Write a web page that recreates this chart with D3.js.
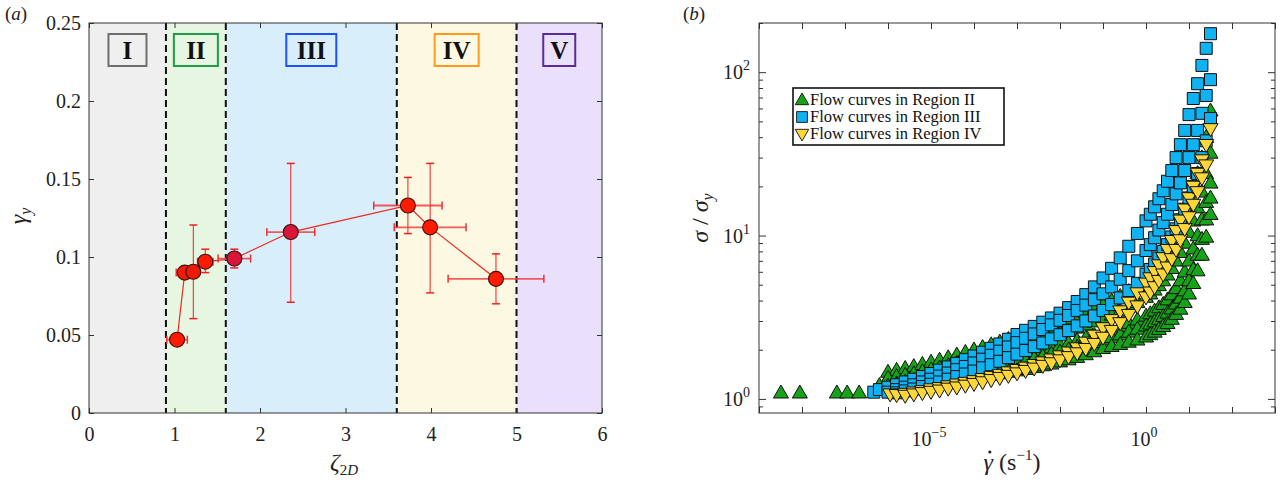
<!DOCTYPE html>
<html>
<head>
<meta charset="utf-8">
<script src="https://cdn.jsdelivr.net/npm/d3@7"></script>
<style>
body { margin: 0; background: #fff; }
svg text { font-family: "Liberation Serif", "DejaVu Serif", serif; fill: #222; }
</style>
</head>
<body>
<svg id="chart" width="1286" height="487"></svg>
<script>
// ---- panel (a) data ----
const zeta = [1.03, 1.12, 1.22, 1.36, 1.70, 2.36, 3.73, 3.99, 4.76];
const gammaY = [0.047, 0.090, 0.0905, 0.097, 0.099, 0.116, 0.133, 0.119, 0.086];
const zetaErr = [0.12, 0.10, 0.02, 0.09, 0.19, 0.28, 0.40, 0.42, 0.56];
const gammaErrLo = [0.002, 0.0, 0.030, 0.007, 0.006, 0.045, 0.018, 0.042, 0.016];
const gammaErrHi = [0.002, 0.0, 0.030, 0.008, 0.006, 0.044, 0.018, 0.041, 0.016];
const pointFill = ['#ff1a00', '#f01a05', '#ee1a08', '#ff1a00', '#d8163a', '#d8163a', '#ff1a00', '#ff1a00', '#ff1a00'];

const regionEdges = [0, 0.9, 1.6, 3.6, 5, 6];
const regionNames = ['I', 'II', 'III', 'IV', 'V'];
const regionFill = ['#efefef', '#e6f6e1', '#d9eefb', '#fdf8e2', '#ebe0fb'];
const regionStroke = ['#6e6e6e', '#1c9e48', '#1f50ff', '#ff9a1c', '#5a2a98'];
const regionBoxW = [38, 44, 50, 44, 32];

const xTicksA = [0, 1, 2, 3, 4, 5, 6];
const yTicksA = [0, 0.05, 0.1, 0.15, 0.2, 0.25];
const yTickLabelsA = ['0', '0.05', '0.1', '0.15', '0.2', '0.25'];

// ---- panel (b) data: log10 shear rate grid and σ/σy per flow curve ----
const rateGrid = [-6.2, -6.0, -5.8, -5.6, -5.4, -5.2, -5.0, -4.8, -4.6, -4.4, -4.2, -4.0,
  -3.8, -3.6, -3.4, -3.2, -3.0, -2.8, -2.6, -2.4, -2.2, -2.0, -1.8, -1.6, -1.4, -1.2,
  -1.0, -0.8, -0.6, -0.4, -0.2, 0.0, 0.1, 0.2, 0.3, 0.4, 0.5, 0.6, 0.7, 0.8, 0.9, 1.0,
  1.1, 1.2, 1.3, 1.4, 1.5];

const greenCurves = [
  [null, 1.46, 1.5, 1.54, 1.58, 1.63, 1.68, 1.73, 1.79, 1.86, 1.93, 2.0, 2.07, 2.15, 2.23, 2.32, 2.41, 2.5, 2.6, 2.71, 2.82, 2.95, 3.08, 3.22, 3.38, 3.55, 3.75, 3.98, 4.25, 4.55, 4.9, 5.4, 5.7, 6.1, 6.6, 7.2, 8.0, 9.0, 10.3, 12, 14, 16.5, 19.5, 24, 30, 40, 58],
  [null, 1.34, 1.37, 1.4, 1.43, 1.47, 1.51, 1.55, 1.6, 1.65, 1.7, 1.76, 1.82, 1.88, 1.95, 2.02, 2.09, 2.17, 2.25, 2.33, 2.42, 2.51, 2.61, 2.72, 2.84, 2.97, 3.11, 3.27, 3.45, 3.66, 3.9, 4.2, 4.4, 4.65, 4.95, 5.3, 5.75, 6.3, 7.0, 7.9, 9.0, 10.5, 12.3, 14.8, 18.5, 24, 32],
  [null, null, 1.24, 1.27, 1.3, 1.33, 1.36, 1.39, 1.43, 1.47, 1.51, 1.55, 1.6, 1.65, 1.7, 1.75, 1.81, 1.87, 1.93, 1.99, 2.06, 2.13, 2.2, 2.28, 2.36, 2.45, 2.55, 2.66, 2.78, 2.91, 3.05, 3.22, 3.33, 3.46, 3.62, 3.8, 4.05, 4.35, 4.75, 5.3, 6.0, 7.0, 8.3, 10, 12.5, 16, 21],
  [null, null, 1.22, 1.24, 1.26, 1.29, 1.31, 1.34, 1.37, 1.4, 1.43, 1.46, 1.5, 1.54, 1.58, 1.62, 1.67, 1.72, 1.77, 1.82, 1.88, 1.94, 2.0, 2.07, 2.14, 2.22, 2.3, 2.38, 2.47, 2.57, 2.68, 2.8, 2.88, 2.97, 3.08, 3.2, 3.36, 3.56, 3.82, 4.15, 4.6, 5.3, 6.2, 7.6, 9.5, 12.5, 17],
  [1.21, 1.2, 1.21, 1.22, 1.24, 1.25, 1.27, 1.28, 1.3, 1.32, 1.34, 1.36, 1.38, 1.4, 1.43, 1.46, 1.49, 1.52, 1.56, 1.6, 1.64, 1.69, 1.74, 1.8, 1.87, 1.95, 2.04, 2.1, 2.16, 2.23, 2.3, 2.4, 2.48, 2.57, 2.67, 2.78, 2.9, 3.08, 3.3, 3.55, 3.9, 4.4, 5.1, 6.1, 7.6, 9.8, 13.5]
];
const blueCurves = [
  [1.14, 1.18, 1.22, 1.27, 1.32, 1.37, 1.43, 1.5, 1.57, 1.65, 1.74, 1.83, 1.93, 2.04, 2.17, 2.32, 2.48, 2.63, 2.78, 2.95, 3.13, 3.35, 3.62, 3.95, 4.35, 4.85, 5.5, 6.3, 7.3, 8.6, 10.3, 12.3, 13.5, 15.0, 16.8, 18.8, 21.5, 25, 30, 36, 44, 55, 69, 85, 110, 140, 172],
  [null, 1.1, 1.14, 1.18, 1.22, 1.27, 1.32, 1.38, 1.44, 1.51, 1.58, 1.66, 1.75, 1.85, 1.96, 2.08, 2.21, 2.35, 2.5, 2.66, 2.84, 3.03, 3.24, 3.48, 3.75, 4.05, 4.4, 4.85, 5.4, 6.1, 7.0, 8.1, 8.8, 9.7, 10.8, 12.0, 13.5, 15.5, 18, 21, 25, 30, 36, 44, 56, 72, 90],
  [null, null, 1.09, 1.12, 1.15, 1.19, 1.23, 1.27, 1.32, 1.37, 1.42, 1.48, 1.55, 1.62, 1.7, 1.79, 1.88, 1.98, 2.09, 2.2, 2.33, 2.47, 2.62, 2.8, 3.0, 3.22, 3.48, 3.78, 4.15, 4.6, 5.1, 5.8, 6.2, 6.7, 7.3, 8.0, 8.8, 9.8, 11, 12.5, 14.5, 17, 20, 24, 30, 38, 52]
];
const yellowCurves = [
  [null, null, 1.06, 1.08, 1.1, 1.12, 1.15, 1.17, 1.2, 1.23, 1.26, 1.29, 1.33, 1.37, 1.41, 1.46, 1.51, 1.56, 1.62, 1.68, 1.75, 1.83, 1.93, 2.05, 2.22, 2.45, 2.72, 3.05, 3.45, 3.9, 4.45, 5.1, 5.5, 6.0, 6.6, 7.3, 8.2, 9.3, 10.7, 12.4, 14.5, 17, 20, 24, 29, 36, 45],
  [null, null, null, 1.05, 1.07, 1.09, 1.11, 1.13, 1.16, 1.18, 1.21, 1.24, 1.27, 1.31, 1.35, 1.39, 1.44, 1.49, 1.54, 1.6, 1.66, 1.73, 1.81, 1.91, 2.03, 2.18, 2.38, 2.62, 2.92, 3.28, 3.7, 4.2, 4.5, 4.85, 5.3, 5.8, 6.4, 7.2, 8.2, 9.4, 11, 13, 15.5, 18.5, 22.5, 27, null]
];
// isolated first points of some curves (log10 rate, σ/σy)
const greenStarts = [[-8.49, 1.09], [-8.05, 1.09], [-7.19, 1.09], [-6.95, 1.09], [-6.67, 1.09]];
const blueStarts = [[-6.33, 1.1]];
const yellowStarts = [[-5.95, 1.07]];

const legendLabels = ['Flow curves in Region II', 'Flow curves in Region III', 'Flow curves in Region IV'];
const seriesColor = ['#17a317', '#0fb2f2', '#fdd63a'];

const xTicksB = d3.range(-9, 4).map(e => Math.pow(10, e));
const xLabelledB = [-5, 0];
const yLabelledB = [0, 1, 2];

const SERIF = '"Liberation Serif", "DejaVu Serif", serif';
const svg = d3.select('#chart');

// ================= panel (a) =================
const A = { left: 89, right: 602, top: 23, bottom: 413 };
const xA = d3.scaleLinear().domain([0, 6]).range([A.left, A.right]);
const yA = d3.scaleLinear().domain([0, 0.25]).range([A.bottom, A.top]);

const gA = svg.append('g');

regionNames.forEach((name, i) => {
  gA.append('rect')
    .attr('x', xA(regionEdges[i]))
    .attr('y', A.top)
    .attr('width', xA(regionEdges[i + 1]) - xA(regionEdges[i]))
    .attr('height', A.bottom - A.top)
    .attr('fill', regionFill[i]);
});

regionEdges.slice(1, -1).forEach(e => {
  gA.append('line')
    .attr('x1', xA(e)).attr('x2', xA(e))
    .attr('y1', A.top).attr('y2', A.bottom)
    .attr('stroke', '#111')
    .attr('stroke-width', 2)
    .attr('stroke-dasharray', '7,4');
});

// region labels
regionNames.forEach((name, i) => {
  const cx = xA((regionEdges[i] + regionEdges[i + 1]) / 2);
  gA.append('rect')
    .attr('x', cx - regionBoxW[i] / 2)
    .attr('y', 34)
    .attr('width', regionBoxW[i])
    .attr('height', 32)
    .attr('fill', 'none')
    .attr('stroke', regionStroke[i])
    .attr('stroke-width', 2);
  gA.append('text')
    .attr('x', cx)
    .attr('y', 59)
    .attr('text-anchor', 'middle')
    .attr('font-size', '25px')
    .attr('font-weight', 'bold')
    .style('fill', '#111')
    .text(name);
});

// axes
const axA = gA.append('g');
axA.append('g')
  .attr('transform', `translate(0,${A.bottom})`)
  .call(d3.axisBottom(xA).tickValues(xTicksA).tickSize(-5).tickPadding(14).tickFormat(d3.format('d')));
axA.append('g')
  .attr('transform', `translate(0,${A.top})`)
  .call(d3.axisTop(xA).tickValues(xTicksA).tickSize(-5).tickFormat(''));
axA.append('g')
  .attr('transform', `translate(${A.left},0)`)
  .call(d3.axisLeft(yA).tickValues(yTicksA).tickSize(-5).tickPadding(8).tickFormat((d, i) => yTickLabelsA[i]));
axA.append('g')
  .attr('transform', `translate(${A.right},0)`)
  .call(d3.axisRight(yA).tickValues(yTicksA).tickSize(-5).tickFormat(''));
axA.selectAll('g').attr('font-family', SERIF);
axA.selectAll('.domain').remove();
axA.selectAll('.tick line').attr('stroke', '#333');
axA.selectAll('.tick text').attr('font-size', '20px').style('font-family', SERIF).style('fill', '#222');

gA.append('rect')
  .attr('x', A.left).attr('y', A.top)
  .attr('width', A.right - A.left).attr('height', A.bottom - A.top)
  .attr('fill', 'none').attr('stroke', '#333').attr('stroke-width', 1);

// data line
const lineA = d3.line().x(d => xA(d[0])).y(d => yA(d[1]));
gA.append('path')
  .datum(zeta.map((z, i) => [z, gammaY[i]]))
  .attr('d', lineA)
  .attr('fill', 'none')
  .attr('stroke', '#ec2a20')
  .attr('stroke-width', 1.2);

// error bars
const cap = 4;
zeta.forEach((z, i) => {
  const g = gA.append('g');
  const cy = yA(gammaY[i]);
  if (zetaErr[i] > 0) {
    const x1 = xA(z - zetaErr[i]), x2 = xA(z + zetaErr[i]);
    g.append('line').attr('x1', x1).attr('x2', x2).attr('y1', cy).attr('y2', cy)
      .attr('stroke', '#f04040').attr('stroke-width', 1.8).attr('opacity', 0.85);
    [x1, x2].forEach(x => g.append('line').attr('x1', x).attr('x2', x)
      .attr('y1', cy - cap).attr('y2', cy + cap).attr('stroke', '#f03030').attr('stroke-width', 1.5));
  }
  if (gammaErrLo[i] + gammaErrHi[i] > 0) {
    const y1 = yA(gammaY[i] - gammaErrLo[i]), y2 = yA(gammaY[i] + gammaErrHi[i]);
    const cx = xA(z);
    g.append('line').attr('x1', cx).attr('x2', cx).attr('y1', y1).attr('y2', y2)
      .attr('stroke', '#f02020').attr('stroke-width', 1);
    [y1, y2].forEach(y => g.append('line').attr('x1', cx - cap).attr('x2', cx + cap)
      .attr('y1', y).attr('y2', y).attr('stroke', '#f02020').attr('stroke-width', 1.5));
  }
});

gA.selectAll('.pt')
  .data(zeta)
  .enter()
  .append('circle')
  .attr('class', 'pt')
  .attr('cx', d => xA(d))
  .attr('cy', (d, i) => yA(gammaY[i]))
  .attr('r', 7.5)
  .attr('fill', (d, i) => pointFill[i])
  .attr('stroke', '#3a1010')
  .attr('stroke-width', 1.1);

// labels
svg.append('text').attr('x', 5).attr('y', 20).attr('font-size', '19px')
  .html('(<tspan font-style="italic">a</tspan>)');
svg.append('text')
  .attr('transform', 'translate(26,216) rotate(-90)')
  .attr('text-anchor', 'middle')
  .attr('font-size', '24px')
  .html('<tspan font-style="italic">γ</tspan><tspan font-style="italic" font-size="16px" dy="5">y</tspan>');
svg.append('text')
  .attr('x', 344).attr('y', 470)
  .attr('text-anchor', 'middle')
  .attr('font-size', '24px')
  .html('<tspan font-style="italic">ζ</tspan><tspan font-size="15px" dy="5">2</tspan><tspan font-style="italic" font-size="15px">D</tspan>');

// ================= panel (b) =================
const B = { left: 759, right: 1275, top: 23, bottom: 413 };
const xB = d3.scaleLog().domain([1e-9, 1e3]).range([B.left, B.right]);
const yB = d3.scaleLog().domain([0.82, 200]).range([B.bottom, B.top]);

const gB = svg.append('g');

function sup(sel, exp) {
  sel.html(`10<tspan font-size="14px" dy="-9">${exp}</tspan>`);
}

// ticks
const yMajorB = [1, 10, 100];
const yMinorB = [];
[0.1, 1, 10, 100].forEach(dec => {
  for (let m = 2; m <= 9; m++) {
    const v = dec * m;
    if (v >= 0.82 && v <= 200) yMinorB.push(v);
  }
});

const axB = gB.append('g');
axB.append('g').attr('transform', `translate(0,${B.bottom})`)
  .call(d3.axisBottom(xB).tickValues(xTicksB).tickSize(-6).tickFormat(''));
axB.append('g').attr('transform', `translate(0,${B.top})`)
  .call(d3.axisTop(xB).tickValues(xTicksB).tickSize(-6).tickFormat(''));
axB.append('g').attr('transform', `translate(${B.left},0)`)
  .call(d3.axisLeft(yB).tickValues(yMajorB).tickSize(-7).tickFormat(''));
axB.append('g').attr('transform', `translate(${B.right},0)`)
  .call(d3.axisRight(yB).tickValues(yMajorB).tickSize(-7).tickFormat(''));
axB.append('g').attr('transform', `translate(${B.left},0)`)
  .call(d3.axisLeft(yB).tickValues(yMinorB).tickSize(-4).tickFormat(''));
axB.append('g').attr('transform', `translate(${B.right},0)`)
  .call(d3.axisRight(yB).tickValues(yMinorB).tickSize(-4).tickFormat(''));
axB.selectAll('.domain').remove();
axB.selectAll('.tick line').attr('stroke', '#333');

gB.append('rect')
  .attr('x', B.left).attr('y', B.top)
  .attr('width', B.right - B.left).attr('height', B.bottom - B.top)
  .attr('fill', 'none').attr('stroke', '#333').attr('stroke-width', 1);

xLabelledB.forEach(e => {
  gB.append('text')
    .attr('x', xB(Math.pow(10, e)) - 2)
    .attr('y', B.bottom + 33)
    .attr('text-anchor', 'middle')
    .attr('font-size', '20px')
    .call(sup, e < 0 ? '−' + Math.abs(e) : e);
});
yLabelledB.forEach(e => {
  gB.append('text')
    .attr('x', B.left - 9)
    .attr('y', yB(Math.pow(10, e)) + 7)
    .attr('text-anchor', 'end')
    .attr('font-size', '20px')
    .call(sup, e);
});

// markers
const triUp = 'M0,-7.8L7.5,5.2L-7.5,5.2Z';
const triDown = 'M0,7.8L7.5,-5.2L-7.5,-5.2Z';
const square = 'M-6,-6H6V6H-6Z';

const plotB = gB.append('g');
function drawCurve(values, starts, shape, color) {
  const pts = [];
  starts.forEach(s => pts.push(s));
  values.forEach((v, i) => { if (v !== null) pts.push([rateGrid[i], v]); });
  plotB.append('g').selectAll('path')
    .data(pts)
    .enter()
    .append('path')
    .attr('d', shape)
    .attr('transform', d => `translate(${xB(Math.pow(10, d[0]))},${yB(d[1])})`)
    .attr('fill', color)
    .attr('stroke', '#111')
    .attr('stroke-width', 1);
}
greenStarts.forEach(s => drawCurve([], [s], triUp, seriesColor[0]));
greenCurves.forEach(c => drawCurve(c, [], triUp, seriesColor[0]));
blueCurves.forEach((c, i) => drawCurve(c, i === 0 ? blueStarts : [], square, seriesColor[1]));
yellowCurves.forEach((c, i) => drawCurve(c, i === 0 ? yellowStarts : [], triDown, seriesColor[2]));

// legend
const lg = gB.append('g');
lg.append('rect')
  .attr('x', 793).attr('y', 88).attr('width', 211).attr('height', 57)
  .attr('fill', '#fff').attr('stroke', '#111').attr('stroke-width', 1.6);
const legendShapes = [triUp, square, triDown];
legendLabels.forEach((t, i) => {
  const ly = 100 + i * 17;
  lg.append('path')
    .attr('d', legendShapes[i])
    .attr('transform', `translate(802,${ly}) scale(0.9)`)
    .attr('fill', seriesColor[i]).attr('stroke', '#111').attr('stroke-width', 1);
  lg.append('text')
    .attr('x', 810).attr('y', ly + 5)
    .attr('font-size', '16.5px')
    .style('fill', '#111')
    .text(t);
});

// labels
svg.append('text').attr('x', 683).attr('y', 20).attr('font-size', '19px')
  .html('(<tspan font-style="italic">b</tspan>)');
svg.append('text')
  .attr('transform', 'translate(708,218) rotate(-90)')
  .attr('text-anchor', 'middle')
  .attr('font-size', '24px')
  .html('<tspan font-style="italic">σ</tspan> / <tspan font-style="italic">σ</tspan><tspan font-style="italic" font-size="16px" dy="5">y</tspan>');
const rateLabel = svg.append('text')
  .attr('x', 1012).attr('y', 470)
  .attr('text-anchor', 'middle')
  .attr('font-size', '24px')
  .html('<tspan font-style="italic">γ</tspan> (s<tspan font-size="15px" dy="-10">−1</tspan><tspan dy="10">)</tspan>');
// dot over γ
const gBox = rateLabel.node().getExtentOfChar(0);
svg.append('circle')
  .attr('cx', gBox.x + gBox.width / 2 + 1.5)
  .attr('cy', 470 - 18)
  .attr('r', 1.6)
  .attr('fill', '#222');
</script>
</body>
</html>
